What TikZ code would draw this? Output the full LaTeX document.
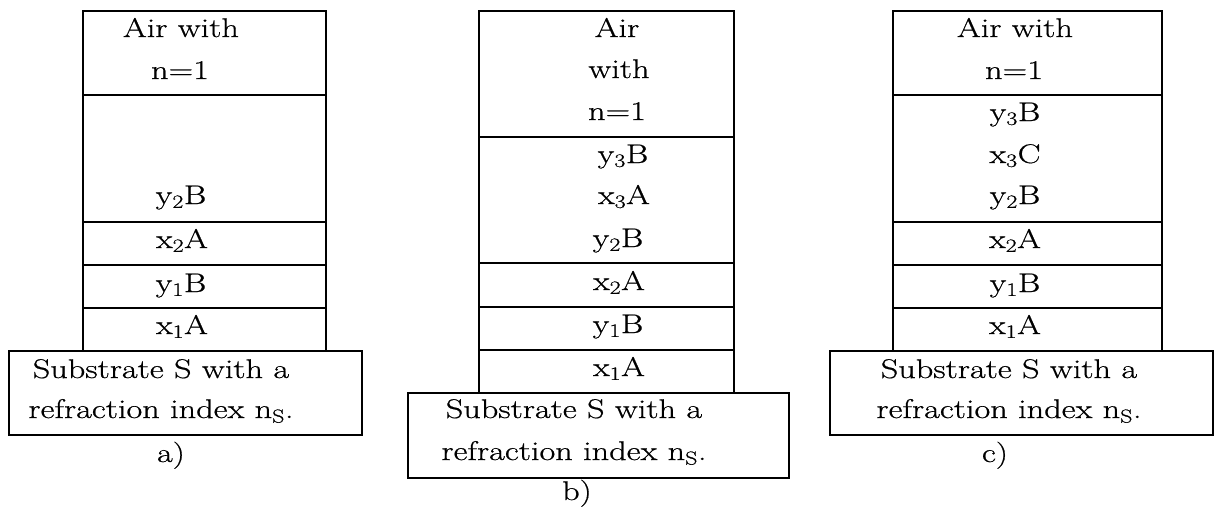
\documentclass[tikz,border=0pt]{standalone}
\usepackage{fontspec}
\setmainfont{Latin Modern Roman}[FakeStretch=1.27,FakeBold=0.6]
\begin{document}
\begin{tikzpicture}[x=1pt,y=-1pt,
  box/.style={draw=black,line width=1.8pt},
  lbl/.style={anchor=base,inner sep=0pt,font=\fontsize{27}{32}\selectfont}]
\useasboundingbox (0,0) rectangle (1214,506);
% ---------- panel a ----------
\draw[box] (83,11) rectangle (326,351);
\foreach \yy in {95,222,265,308} \draw[box] (83,\yy) -- (326,\yy);
\draw[box,fill=white] (9,351) rectangle (362,435);
\node[lbl] (a1) at (181,37) {Air with};
\node[lbl] (a2) at (180,79) {n=1};
\node[lbl] (a3) at (181,204) {y\textsubscript{2}B};
\node[lbl] (a4) at (182,248) {x\textsubscript{2}A};
\node[lbl] (a5) at (181,292) {y\textsubscript{1}B};
\node[lbl] (a6) at (182,334) {x\textsubscript{1}A};
\node[lbl] (a7) at (161,378) {Substrate S with a};
\node[lbl] (a8) at (161,418) {refraction index n\textsubscript{S}.};
\node[lbl] (acap) at (171,462) {a)};
% ---------- panel b ----------
\draw[box] (479,11) rectangle (734,393);
\foreach \yy in {137,263,307,350} \draw[box] (479,\yy) -- (734,\yy);
\draw[box,fill=white] (408,393) rectangle (789,478);
\node[lbl] (b1) at (617,37) {Air};
\node[lbl] (b2) at (619,78) {with};
\node[lbl] (b3) at (617,120) {n=1};
\node[lbl] (b4) at (623,163) {y\textsubscript{3}B};
\node[lbl] (b5) at (624,204) {x\textsubscript{3}A};
\node[lbl] (b6) at (618,247) {y\textsubscript{2}B};
\node[lbl] (b7) at (619,290) {x\textsubscript{2}A};
\node[lbl] (b8) at (618,333) {y\textsubscript{1}B};
\node[lbl] (b9) at (619,376) {x\textsubscript{1}A};
\node[lbl] (b10) at (574,418) {Substrate S with a};
\node[lbl] (b11) at (574,460) {refraction index n\textsubscript{S}.};
\node[lbl] (bcap) at (577,500) {b)};
% ---------- panel c ----------
\draw[box] (893,11) rectangle (1162,351);
\foreach \yy in {95,222,265,308} \draw[box] (893,\yy) -- (1162,\yy);
\draw[box,fill=white] (830,351) rectangle (1213,435);
\node[lbl] (c1) at (1015,37) {Air with};
\node[lbl] (c2) at (1014,79) {n=1};
\node[lbl] (c3) at (1015,121) {y\textsubscript{3}B};
\node[lbl] (c4) at (1015,163) {x\textsubscript{3}C};
\node[lbl] (c5) at (1015,204) {y\textsubscript{2}B};
\node[lbl] (c6) at (1015,248) {x\textsubscript{2}A};
\node[lbl] (c7) at (1015,292) {y\textsubscript{1}B};
\node[lbl] (c8) at (1015,334) {x\textsubscript{1}A};
\node[lbl] (c9) at (1009,378) {Substrate S with a};
\node[lbl] (c10) at (1009,418) {refraction index n\textsubscript{S}.};
\node[lbl] (ccap) at (995,462) {c)};
\end{tikzpicture}
\end{document}
